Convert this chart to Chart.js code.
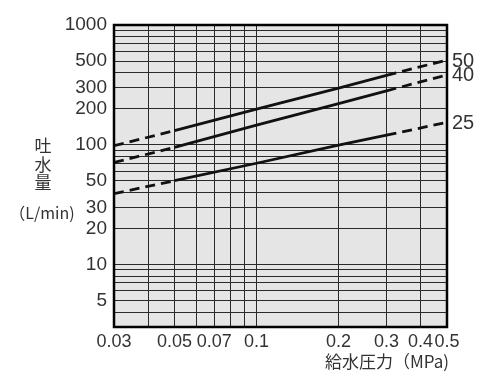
<!DOCTYPE html>
<html>
<head>
<meta charset="utf-8">
<script src="https://cdn.jsdelivr.net/npm/chart.js@4"></script>
<style>
  html, body { margin: 0; padding: 0; background: #fff; }
  #wrap { width: 500px; height: 389px; }
</style>
</head>
<body>
<div id="wrap"><canvas id="chart"></canvas></div>
<script>
// ---- data ----
const pressure = [0.03, 0.05, 0.1, 0.2, 0.3, 0.5];
const flow50 = [98, 131, 198, 297, 380, 510];
const flow40 = [71, 95, 146, 220, 282, 383];
const flow25 = [39, 50, 70, 99, 120, 154];
const seriesNames = ['50', '40', '25'];

const xGridTicks = [0.03, 0.04, 0.05, 0.06, 0.07, 0.08, 0.09, 0.1, 0.2, 0.3, 0.4, 0.5];
const xLabelTicks = [0.03, 0.05, 0.07, 0.1, 0.2, 0.3, 0.4, 0.5];
const yGridTicks = [3, 4, 5, 6, 7, 8, 9, 10, 20, 30, 40, 50, 60, 70, 80, 90,
  100, 200, 300, 400, 500, 600, 700, 800, 900, 1000];
const yLabelTicks = [5, 10, 20, 30, 50, 100, 200, 300, 500, 1000];

const TEXT = '#333';
const LATIN = '"Liberation Sans", Arial, sans-serif';
const CJK = '"Noto Sans CJK JP", sans-serif';

function hasTick(list, v) {
  return list.some(t => Math.abs(t - v) < 1e-9);
}

function makeSeries(name, values) {
  return {
    label: name,
    data: pressure.map((p, i) => ({ x: p, y: values[i] })),
    borderColor: '#111',
    borderWidth: 2.8,
    pointRadius: 0,
    fill: false,
    tension: 0,
    // first and last pieces are dashed (extrapolated range)
    segment: {
      borderDash: ctx => (ctx.p0DataIndex === 0 || ctx.p1DataIndex === pressure.length - 1) ? [10, 6] : undefined
    }
  };
}

const plotFrame = {
  id: 'plotFrame',
  beforeDraw(chart) {
    const { ctx, chartArea: a } = chart;
    ctx.save();
    ctx.fillStyle = '#e5e5e5';
    ctx.fillRect(a.left, a.top, a.right - a.left, a.bottom - a.top);
    ctx.restore();
  },
  afterDraw(chart) {
    const { ctx, chartArea: a } = chart;
    ctx.save();
    ctx.strokeStyle = '#000';
    ctx.lineWidth = 2.5;
    ctx.strokeRect(a.left, a.top, a.right - a.left, a.bottom - a.top);

    // series names at the right end of each line
    ctx.fillStyle = TEXT;
    ctx.font = '20px ' + LATIN;
    ctx.textAlign = 'left';
    ctx.textBaseline = 'middle';
    chart.data.datasets.forEach((ds, i) => {
      const pts = chart.getDatasetMeta(i).data;
      const last = pts[pts.length - 1];
      ctx.fillText(ds.label, a.right + 5, last.y + 1);
    });

    // y axis title, stacked vertically
    ctx.font = '17px ' + CJK;
    ctx.textAlign = 'center';
    ['吐', '水', '量'].forEach((ch, i) => ctx.fillText(ch, 43, 146 + i * 18.5));
    ctx.font = '16px ' + CJK;
    ctx.fillText('（L/min)', 42, 213);

    // x axis title, right-aligned with the plot
    ctx.font = '17px ' + CJK;
    ctx.textAlign = 'right';
    ctx.fillText('給水圧力（MPa)', a.right + 2, 362);
    ctx.restore();
  }
};

new Chart(document.getElementById('chart'), {
  type: 'line',
  data: {
    datasets: [
      makeSeries(seriesNames[0], flow50),
      makeSeries(seriesNames[1], flow40),
      makeSeries(seriesNames[2], flow25)
    ]
  },
  options: {
    responsive: true,
    maintainAspectRatio: false,
    animation: false,
    layout: { padding: { top: 25, right: 53, left: 0, bottom: 0 } },
    plugins: { legend: { display: false }, tooltip: { enabled: false } },
    scales: {
      x: {
        type: 'logarithmic',
        min: 0.03,
        max: 0.5,
        afterBuildTicks: scale => { scale.ticks = xGridTicks.map(v => ({ value: v })); },
        afterFit: scale => { scale.height = 62; },
        grid: { color: '#2a2a2a', lineWidth: 1, drawTicks: false },
        border: { display: false },
        ticks: {
          autoSkip: false,
          maxRotation: 0,
          padding: 4,
          color: TEXT,
          font: { family: LATIN, size: 18 },
          callback: v => hasTick(xLabelTicks, v) ? String(v) : ''
        }
      },
      y: {
        type: 'logarithmic',
        min: 3,
        max: 1000,
        afterBuildTicks: scale => { scale.ticks = yGridTicks.map(v => ({ value: v })); },
        afterFit: scale => { scale.width = 114; },
        grid: { color: '#2a2a2a', lineWidth: 1, drawTicks: false },
        border: { display: false },
        ticks: {
          autoSkip: false,
          padding: 7,
          color: TEXT,
          font: { family: LATIN, size: 19 },
          callback: v => hasTick(yLabelTicks, v) ? String(v) : ''
        }
      }
    }
  },
  plugins: [plotFrame]
});
</script>
</body>
</html>
